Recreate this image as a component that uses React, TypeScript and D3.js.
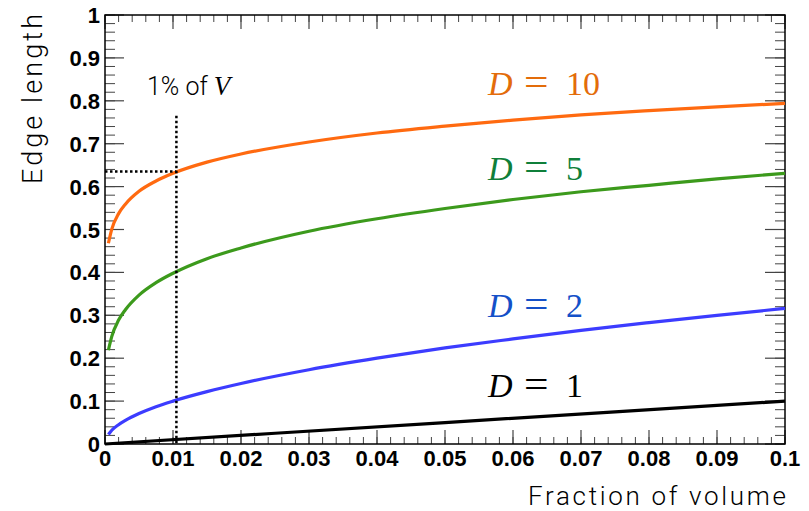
import React from "react";
import * as d3 from "d3";

// Sampled fractions of volume and the edge length of the sub-cube holding that fraction
const fracSamples = [0.0005, 0.001, 0.002, 0.003, 0.005, 0.0075, 0.01, 0.015, 0.02, 0.03, 0.04, 0.05, 0.06, 0.07, 0.08, 0.09, 0.1];
const edgeD10 = [0.468, 0.501, 0.537, 0.559, 0.589, 0.613, 0.631, 0.657, 0.676, 0.704, 0.725, 0.741, 0.755, 0.767, 0.777, 0.786, 0.794];
const edgeD5 = [0.219, 0.251, 0.289, 0.313, 0.347, 0.376, 0.398, 0.432, 0.457, 0.496, 0.525, 0.549, 0.570, 0.588, 0.603, 0.618, 0.631];
const edgeD2 = [0.022, 0.032, 0.045, 0.055, 0.071, 0.087, 0.100, 0.122, 0.141, 0.173, 0.200, 0.224, 0.245, 0.265, 0.283, 0.300, 0.316];
const fracD1 = [0, 0.05, 0.1];
const edgeD1 = [0, 0.05, 0.1];

const xTickValues = [0, 0.01, 0.02, 0.03, 0.04, 0.05, 0.06, 0.07, 0.08, 0.09, 0.1];
const xTickLabels = ["0", "0.01", "0.02", "0.03", "0.04", "0.05", "0.06", "0.07", "0.08", "0.09", "0.1"];
const yTickValues = [0, 0.1, 0.2, 0.3, 0.4, 0.5, 0.6, 0.7, 0.8, 0.9, 1];
const yTickLabels = ["0", "0.1", "0.2", "0.3", "0.4", "0.5", "0.6", "0.7", "0.8", "0.9", "1"];

// Marker for 1% of the volume in D = 10
const markFrac = 0.0105;
const markEdge = 0.635;
const markTop = 0.765;

const W = 809;
const H = 511;
const left = 105, right = 785, top = 15, bottom = 444;

const x = d3.scaleLinear().domain([0, 0.1]).range([left, right]);
const y = d3.scaleLinear().domain([0, 1]).range([bottom, top]);

const line = d3
  .line<[number, number]>()
  .x((d) => x(d[0]))
  .y((d) => y(d[1]))
  .curve(d3.curveMonotoneX);

const zip = (xs: number[], ys: number[]) => xs.map((v, i) => [v, ys[i]] as [number, number]);

const curves = [
  { name: "D10", pts: zip(fracSamples, edgeD10), color: "#ff6a10" },
  { name: "D5", pts: zip(fracSamples, edgeD5), color: "#3c9a1c" },
  { name: "D2", pts: zip(fracSamples, edgeD2), color: "#3c3cff" },
  { name: "D1", pts: zip(fracD1, edgeD1), color: "#000000" },
];

const labels = [
  { num: "10", color: "#e36c0a", base: 95 },
  { num: "5", color: "#0f7f3a", base: 180 },
  { num: "2", color: "#1450c8", base: 317 },
  { num: "1", color: "#000000", base: 397 },
];

const xMinor = d3.range(0, 0.1 + 1e-9, 0.002);
const yMinor = d3.range(0, 1 + 1e-9, 0.02);

export default function App() {
  const tickColor = "#444";
  const sans = "'Liberation Sans', Arial, Helvetica, sans-serif";
  const thin = "Roboto, 'Liberation Sans', Arial, sans-serif";
  const serif = "'Liberation Serif', 'DejaVu Serif', serif";
  return (
    <svg
      width={W}
      height={H}
      style={{ position: "absolute", left: 0, top: 0, background: "#fff" }}
    >
      {/* minor ticks */}
      {xMinor.map((v, i) => (
        <g key={"xm" + i} stroke={tickColor} strokeWidth={1}>
          <line x1={x(v)} x2={x(v)} y1={bottom} y2={bottom - 7} />
          <line x1={x(v)} x2={x(v)} y1={top} y2={top + 7} />
        </g>
      ))}
      {yMinor.map((v, i) => (
        <g key={"ym" + i} stroke={tickColor} strokeWidth={1}>
          <line x1={left} x2={left + 10} y1={y(v)} y2={y(v)} />
          <line x1={right} x2={right - 10} y1={y(v)} y2={y(v)} />
        </g>
      ))}
      {/* major ticks */}
      {xTickValues.map((v, i) => (
        <g key={"xM" + i} stroke={tickColor} strokeWidth={1.2}>
          <line x1={x(v)} x2={x(v)} y1={bottom} y2={bottom - 14} />
          <line x1={x(v)} x2={x(v)} y1={top} y2={top + 14} />
        </g>
      ))}
      {yTickValues.map((v, i) => (
        <g key={"yM" + i} stroke={tickColor} strokeWidth={1.2}>
          <line x1={left} x2={left + 19} y1={y(v)} y2={y(v)} />
          <line x1={right} x2={right - 20} y1={y(v)} y2={y(v)} />
        </g>
      ))}

      {/* frame */}
      <rect
        x={left}
        y={top}
        width={right - left}
        height={bottom - top}
        fill="none"
        stroke="#000"
        strokeWidth={1.5}
      />

      {/* tick labels */}
      {xTickValues.map((v, i) => (
        <text
          key={"xl" + i}
          x={x(v)}
          y={466}
          textAnchor="middle"
          fontFamily={sans}
          fontWeight="bold"
          fontSize={22}
          fill="#000"
        >
          {xTickLabels[i]}
        </text>
      ))}
      {yTickValues.map((v, i) => (
        <text
          key={"yl" + i}
          x={100}
          y={y(v) + 8}
          textAnchor="end"
          fontFamily={sans}
          fontWeight="bold"
          fontSize={22}
          fill="#000"
        >
          {yTickLabels[i]}
        </text>
      ))}

      {/* axis titles */}
      <text
        x={528}
        y={505}
        fontFamily={thin}
        fontWeight={300}
        fontSize={26}
        textLength={258}
        lengthAdjust="spacing"
        fill="#000"
      >
        Fraction of volume
      </text>
      <text
        transform="translate(42,184) rotate(-90)"
        fontFamily={thin}
        fontWeight={300}
        fontSize={27}
        textLength={170}
        lengthAdjust="spacing"
        fill="#000"
      >
        Edge length
      </text>

      {/* curves */}
      <g>
        {curves.map((c) => (
          <path
            key={c.name}
            d={line(c.pts) || ""}
            fill="none"
            stroke={c.color}
            strokeWidth={3.2}
          />
        ))}
      </g>

      {/* 1% marker */}
      <line
        x1={x(markFrac)}
        x2={x(markFrac)}
        y1={y(markTop)}
        y2={y(0)}
        stroke="#000"
        strokeWidth={2.5}
        strokeDasharray="2.5,2.5"
      />
      <line
        x1={x(0)}
        x2={x(markFrac)}
        y1={y(markEdge)}
        y2={y(markEdge)}
        stroke="#000"
        strokeWidth={2.5}
        strokeDasharray="2.5,2.5"
      />
      <text x={147} y={95} fontFamily={thin} fontWeight={300} fontSize={25} fill="#000">
        1% of{" "}
        <tspan fontFamily={serif} fontStyle="italic" fontSize={27}>
          V
        </tspan>
      </text>

      {/* dimension labels */}
      {labels.map((l) => (
        <g key={l.num} fill={l.color} fontFamily={serif}>
          <text x={488} y={l.base} fontSize={34} fontStyle="italic">
            D
          </text>
          <text
            transform={`translate(524,${l.base}) scale(1.45,1.25)`}
            fontSize={30}
          >
            =
          </text>
          <text x={566} y={l.base} fontSize={34}>
            {l.num}
          </text>
        </g>
      ))}
    </svg>
  );
}
